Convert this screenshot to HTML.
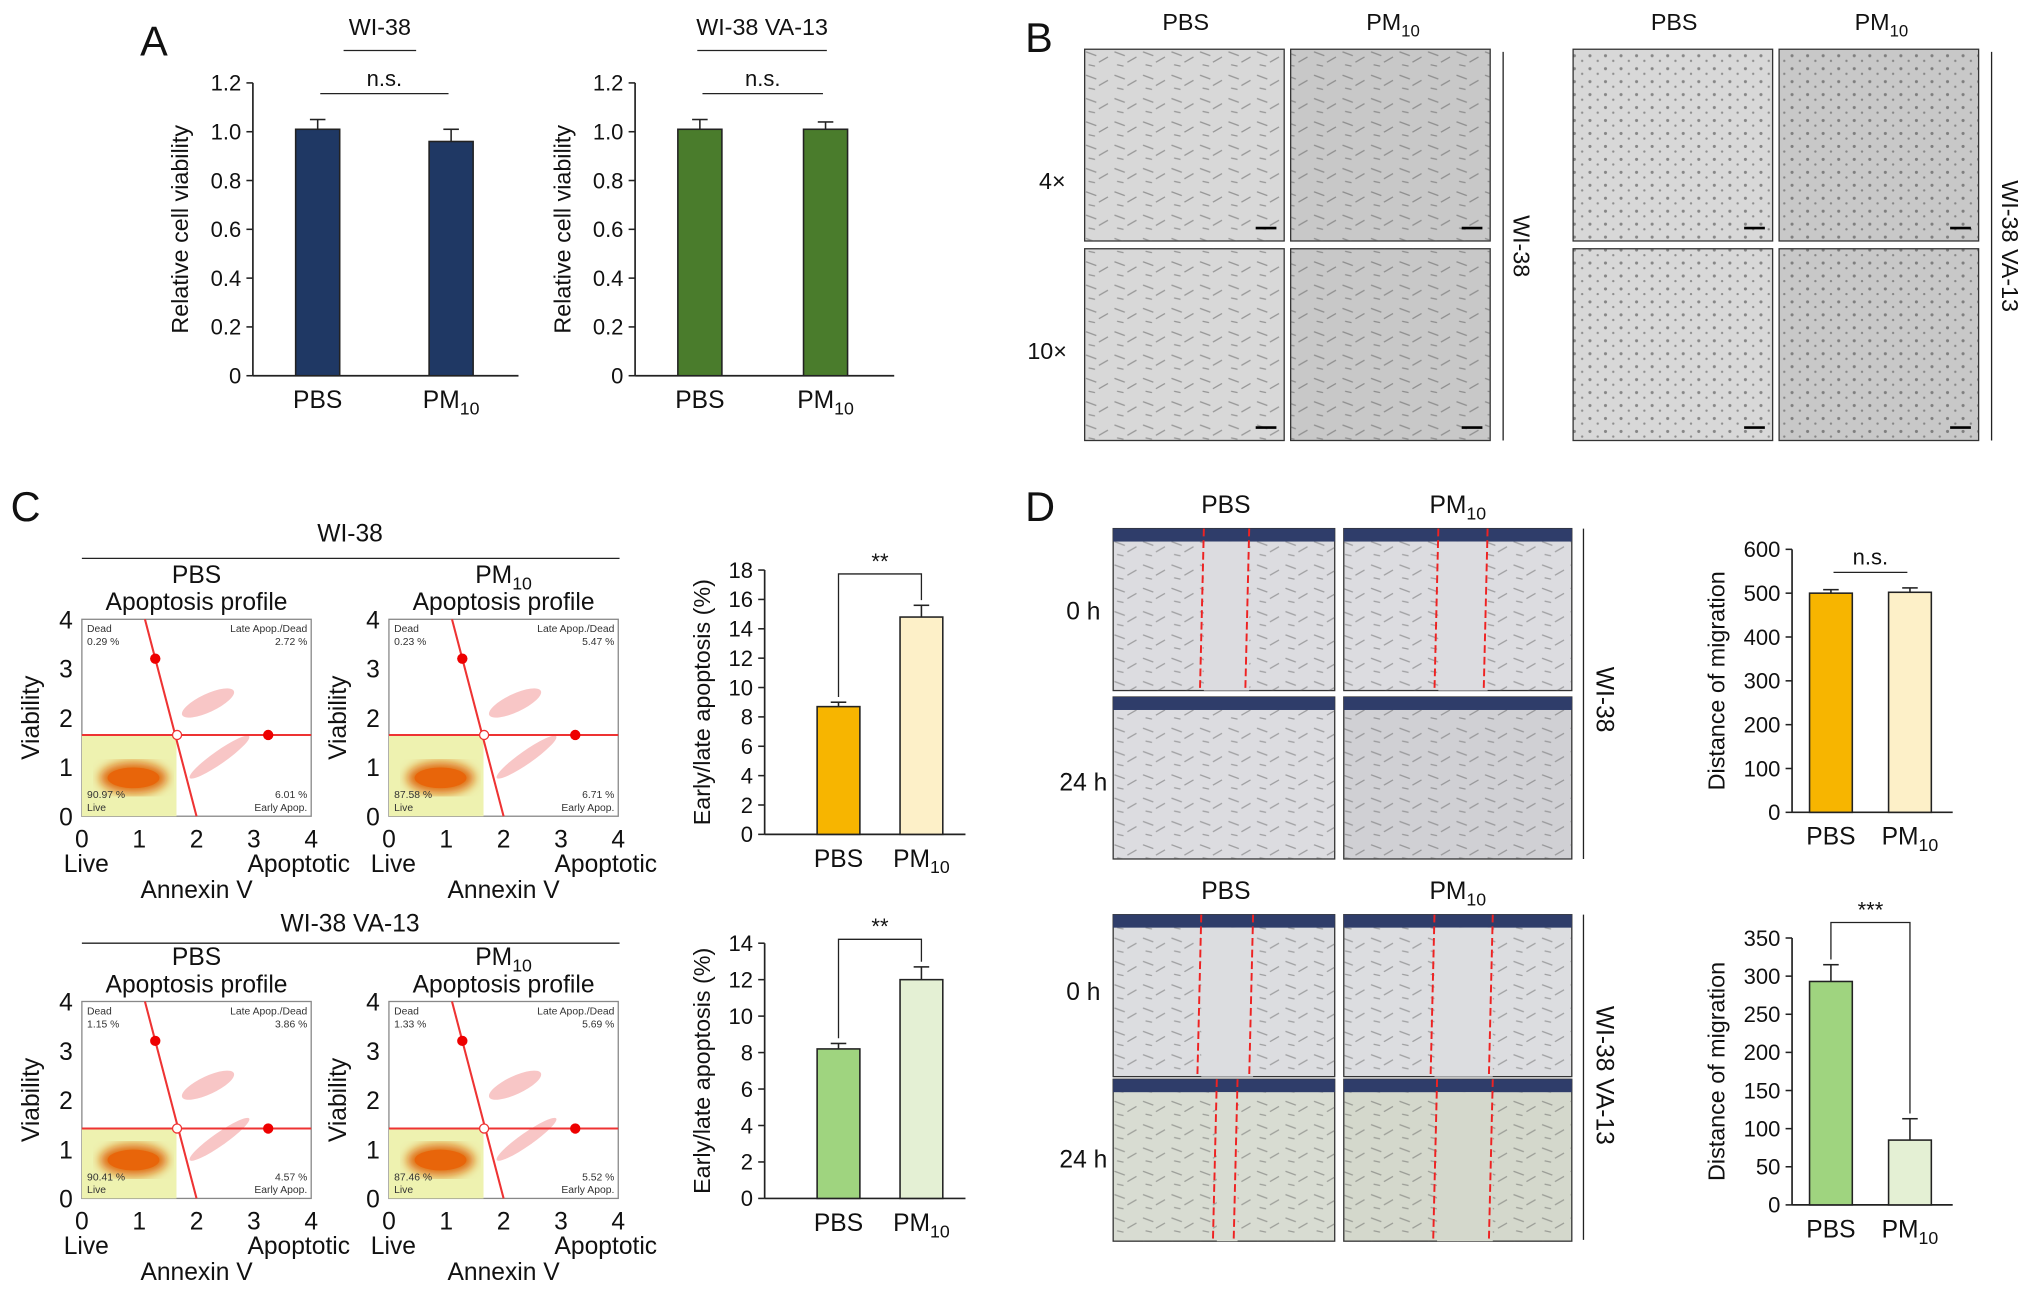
<!DOCTYPE html>
<html><head><meta charset="utf-8"><style>
html,body{margin:0;padding:0;background:#fff}
svg{display:block;font-family:"Liberation Sans",sans-serif}
</style></head><body>
<svg id="fig" width="2032" height="1293" viewBox="0 0 1568 998" xmlns="http://www.w3.org/2000/svg">
<defs>
<filter id="blur"><feGaussianBlur stdDeviation="4"/></filter>
<pattern id="cells" width="22" height="18" patternUnits="userSpaceOnUse"><path d="M2 4l8 3M12 12l7-4M4 14l5 1" stroke="#555" stroke-width="1" fill="none"/></pattern>
<pattern id="dots" width="12" height="10" patternUnits="userSpaceOnUse"><circle cx="3" cy="3" r="1.2" fill="#333"/><circle cx="9" cy="7" r="0.9" fill="#444"/></pattern>
</defs>
<g id="root"></g>
</svg>
<script>
const svgNS="http://www.w3.org/2000/svg";
const root=document.getElementById('root');
function el(tag,attrs,parent,text){const e=document.createElementNS(svgNS,tag);for(const k in attrs)e.setAttribute(k,attrs[k]);if(text!==undefined)e.textContent=text;(parent||root).appendChild(e);return e;}

// ---------- Data ----------
const aCategories=["PBS","PM10"];
const aWI38Values=[1.01,0.96];
const aWI38Err=[0.04,0.05];
const aVA13Values=[1.01,1.01];
const aVA13Err=[0.04,0.03];
const aTicks=[0,0.2,0.4,0.6,0.8,1.0,1.2];
const cWI38Values=[8.7,14.8];
const cWI38Err=[0.3,0.8];
const cWI38Ticks=[0,2,4,6,8,10,12,14,16,18];
const cVA13Values=[8.2,12.0];
const cVA13Err=[0.3,0.7];
const cVA13Ticks=[0,2,4,6,8,10,12,14];
const dWI38Values=[500,502];
const dWI38Err=[8,10];
const dWI38Ticks=[0,100,200,300,400,500,600];
const dVA13Values=[293,85];
const dVA13Err=[22,28];
const dVA13Ticks=[0,50,100,150,200,250,300,350];

function catLabel(g,x,y,cat,size){
  const t=el('text',{x:x,y:y,'text-anchor':'middle','font-size':size,fill:'#111'},g);
  if(cat==="PM10"){t.textContent="PM";el('tspan',{'font-size':size*0.72,dy:5},t,"10");}
  else t.textContent=cat;
  return t;
}

function barChart(o){
  const g=el('g',{});
  
  
  const max=o.ticks[o.ticks.length-1];
  const ys=v=>o.y0-(v/max)*(o.y0-o.y1);
  el('line',{x1:o.x0,y1:o.y1,x2:o.x0,y2:o.y0,stroke:'#222','stroke-width':1.3},g);
  el('line',{x1:o.x0,y1:o.y0,x2:o.xEnd,y2:o.y0,stroke:'#222','stroke-width':1.3},g);
  o.ticks.forEach(t=>{
    const y=ys(t);
    el('line',{x1:o.x0-5,y1:y,x2:o.x0,y2:y,stroke:'#222','stroke-width':1.2},g);
    const lt=el('text',{x:o.x0-9,y:y+6,'text-anchor':'end','font-size':17,fill:'#111'},g,o.fmt?o.fmt(t):String(t));
    
    
  });
  const yl=el('text',{x:0,y:0,transform:`translate(${o.x0-o.ylOff},${(o.y0+o.y1)/2}) rotate(-90)`,'text-anchor':'middle','font-size':18,fill:'#111'},g,o.ylabel);
  
  
  o.values.forEach((v,i)=>{
    const cx=o.xs[i];
    const b=el('rect',{x:cx-o.bw/2,y:ys(v),width:o.bw,height:o.y0-ys(v),fill:o.colors[i],stroke:o.stroke||'#222','stroke-width':1.2},g);
    
    
    const ey=ys(v+o.err[i]);
    el('line',{x1:cx,y1:ys(v),x2:cx,y2:ey,stroke:'#222','stroke-width':1.2},g);
    el('line',{x1:cx-6,y1:ey,x2:cx+6,y2:ey,stroke:'#222','stroke-width':1.2},g);
    const cl=catLabel(g,cx,o.y0+25,o.cats[i],19);
    
    
  });
  if(o.sig){
    const top=Math.max(...o.values.map((v,i)=>v+o.err[i]));
    if(o.sig==="n.s."){
      const y=ys(top)-o.sigGap;
      el('line',{x1:o.xs[0]+2,y1:y,x2:o.xs[1]-2,y2:y,stroke:'#222','stroke-width':1},g);
      el('text',{x:(o.xs[0]+o.xs[1])/2,y:y-6,'text-anchor':'middle','font-size':17,fill:'#111'},g,"n.s.");
    } else {
      const y=o.sigY;
      el('polyline',{points:`${o.xs[0]},${ys(o.values[0]+o.err[0])-4} ${o.xs[0]},${y} ${o.xs[1]},${y} ${o.xs[1]},${ys(o.values[1]+o.err[1])-4}`,fill:'none',stroke:'#222','stroke-width':1},g);
      el('text',{x:(o.xs[0]+o.xs[1])/2,y:y-4,'text-anchor':'middle','font-size':17,fill:'#111'},g,o.sig);
    }
  }
  return g;
}

// ---------- Panel letters ----------
[["A",108,43],["B",791,40],["C",8,402],["D",791,402]].forEach(([t,x,y])=>{
  const e=el('text',{x:x,y:y,'font-size':32,fill:'#111'},root,t);
  
  
});

// ---------- Panel A ----------
function titleU(x,y,t,w){
  const e=el('text',{x:x,y:y,'text-anchor':'middle','font-size':18,fill:'#111'},root,t);
  
  
  el('line',{x1:x-w/2,y1:y+12,x2:x+w/2,y2:y+12,stroke:'#222','stroke-width':1});
}
titleU(293,27,"WI-38",56);
titleU(588,27,"WI-38 VA-13",100);
barChart({name:'chart-a-wi38',x0:195,xEnd:400,y0:290,y1:64,ticks:aTicks,fmt:t=>t===0?"0":t.toFixed(1),values:aWI38Values,err:aWI38Err,cats:aCategories,xs:[245,348],bw:34,colors:['#1f3864','#1f3864'],ylabel:'Relative cell viability',ylOff:50,sig:'n.s.',sigGap:20});
barChart({name:'chart-a-va13',x0:490,xEnd:690,y0:290,y1:64,ticks:aTicks,fmt:t=>t===0?"0":t.toFixed(1),values:aVA13Values,err:aVA13Err,cats:aCategories,xs:[540,637],bw:34,colors:['#4a7c2c','#4a7c2c'],ylabel:'Relative cell viability',ylOff:50,sig:'n.s.',sigGap:20});

// ---------- Panel B (micrographs) ----------
function micro(x,y,w,h,name,pat,fill){
  const g=el('g',{});
  
  
  el('rect',{x:x,y:y,width:w,height:h,fill:fill||'#d4d4d4',stroke:'#333','stroke-width':1},g);
  if(pat) el('rect',{x:x,y:y,width:w,height:h,fill:pat,opacity:0.5},g);
  el('line',{x1:x+w-22,y1:y+h-10,x2:x+w-6,y2:y+h-10,stroke:'#000','stroke-width':2},g);
}
const bCols=[837,996,1214,1373], bRows=[38,192];
bCols.forEach((x,ci)=>bRows.forEach((y,ri)=>micro(x,y,154,148,'micrograph-b-'+ci+'-'+ri,ci%2?(ci<2?'url(#cells)':'url(#dots)'):(ci<2?'url(#cells)':'url(#dots)'),ci%2?'#c8c8c8':'#d8d8d8')));
[[915,"PBS"],[1075,"PM10"],[1292,"PBS"],[1452,"PM10"]].forEach(([x,t])=>catLabel(root,x,23,t,18));
el('text',{x:812,y:146,'text-anchor':'middle','font-size':18,fill:'#111'},root,"4×");
el('text',{x:808,y:277,'text-anchor':'middle','font-size':18,fill:'#111'},root,"10×");
el('line',{x1:1160,y1:40,x2:1160,y2:340,stroke:'#222','stroke-width':1});
el('text',{x:0,y:0,transform:'translate(1168,190) rotate(90)','text-anchor':'middle','font-size':18,fill:'#111'},root,"WI-38");
el('line',{x1:1537,y1:40,x2:1537,y2:340,stroke:'#222','stroke-width':1});
el('text',{x:0,y:0,transform:'translate(1545,190) rotate(90)','text-anchor':'middle','font-size':18,fill:'#111'},root,"WI-38 VA-13");

// ---------- Panel C flow plots ----------
const flowLabels=[["0.29 %","2.72 %","90.97 %","6.01 %"],["0.23 %","5.47 %","87.58 %","6.71 %"],["1.15 %","3.86 %","90.41 %","4.57 %"],["1.33 %","5.69 %","87.46 %","5.52 %"]];
function flow(x0,y0,idx,cond,hy){
  const g=el('g',{});
  
  
  const w=177,h=152, sx=v=>x0+v/4*w, sy=v=>y0-v/4*h;
  el('rect',{x:x0,y:y0-h,width:w,height:h,fill:'#fff',stroke:'#888','stroke-width':1},g);
  el('rect',{x:x0,y:sy(hy),width:sx(1.65)-x0,height:sy(0)-sy(hy),fill:'#eef2b0'},g);
  el('ellipse',{cx:sx(0.9),cy:sy(0.78),rx:26,ry:12,fill:'#e06a10',filter:'url(#blur)'},g);
  el('ellipse',{cx:sx(0.9),cy:sy(0.78),rx:20,ry:8,fill:'#e8650a'},g);
  el('ellipse',{cx:sx(2.2),cy:sy(2.3),rx:22,ry:7,fill:'#f4a0a0',opacity:0.6,transform:`rotate(-25 ${sx(2.2)} ${sy(2.3)})`},g);
  el('ellipse',{cx:sx(2.4),cy:sy(1.2),rx:28,ry:5,fill:'#f4a0a0',opacity:0.6,transform:`rotate(-35 ${sx(2.4)} ${sy(1.2)})`},g);
  el('line',{x1:x0,y1:sy(hy),x2:x0+w,y2:sy(hy),stroke:'#e33',"stroke-width":1.6},g);
  el('line',{x1:sx(1.1),y1:y0-h,x2:sx(2.0),y2:y0,stroke:'#e33',"stroke-width":1.6},g);
  el('circle',{cx:sx(1.28),cy:sy(3.2),r:4,fill:'#e00'},g);
  el('circle',{cx:sx(3.25),cy:sy(hy),r:4,fill:'#e00'},g);
  el('circle',{cx:sx(1.66),cy:sy(hy),r:3.5,fill:'#fff',stroke:'#e33'},g);
  const L=flowLabels[idx],fs=8;
  el('text',{x:x0+4,y:y0-h+10,'font-size':fs,fill:'#333'},g,"Dead");
  el('text',{x:x0+4,y:y0-h+20,'font-size':fs,fill:'#333'},g,L[0]);
  el('text',{x:x0+w-3,y:y0-h+10,'font-size':fs,fill:'#333','text-anchor':'end'},g,"Late Apop./Dead");
  el('text',{x:x0+w-3,y:y0-h+20,'font-size':fs,fill:'#333','text-anchor':'end'},g,L[1]);
  el('text',{x:x0+4,y:y0-14,'font-size':fs,fill:'#333'},g,L[2]);
  el('text',{x:x0+4,y:y0-4,'font-size':fs,fill:'#333'},g,"Live");
  el('text',{x:x0+w-3,y:y0-14,'font-size':fs,fill:'#333','text-anchor':'end'},g,L[3]);
  el('text',{x:x0+w-3,y:y0-4,'font-size':fs,fill:'#333','text-anchor':'end'},g,"Early Apop.");
  [0,1,2,3,4].forEach(v=>{
    el('text',{x:x0-7,y:sy(v)+7,'text-anchor':'end','font-size':19,fill:'#111'},g,String(v));
    el('text',{x:sx(v),y:y0+24,'text-anchor':'middle','font-size':19,fill:'#111'},g,String(v));
  });
  el('text',{x:x0-14,y:y0+43,'font-size':19,fill:'#111'},g,"Live");
  el('text',{x:x0+w+30,y:y0+43,'text-anchor':'end','font-size':19,fill:'#111'},g,"Apoptotic");
  el('text',{x:x0+w/2,y:y0+63,'text-anchor':'middle','font-size':19,fill:'#111'},g,"Annexin V");
  el('text',{x:0,y:0,transform:`translate(${x0-33},${y0-h/2}) rotate(-90)`,'text-anchor':'middle','font-size':19,fill:'#111'},g,"Viability");
  catLabel(g,x0+w/2,y0-h-28,cond,19);
  el('text',{x:x0+w/2,y:y0-h-7,'text-anchor':'middle','font-size':19,fill:'#111'},g,"Apoptosis profile");
}
el('text',{x:270,y:418,'text-anchor':'middle','font-size':19,fill:'#111'},root,"WI-38");
el('line',{x1:63,y1:431,x2:478,y2:431,stroke:'#222','stroke-width':1});
el('text',{x:270,y:719,'text-anchor':'middle','font-size':19,fill:'#111'},root,"WI-38 VA-13");
el('line',{x1:63,y1:728,x2:478,y2:728,stroke:'#222','stroke-width':1});
flow(63,630,0,"PBS",1.65);
flow(300,630,1,"PM10",1.65);
flow(63,925,2,"PBS",1.42);
flow(300,925,3,"PM10",1.42);

barChart({name:'chart-c-wi38',x0:590,xEnd:745,y0:644,y1:440,ticks:cWI38Ticks,values:cWI38Values,err:cWI38Err,cats:aCategories,xs:[647,711],bw:33,colors:['#f7b500','#fdf0c8'],ylabel:'Early/late apoptosis (%)',ylOff:42,sig:'**',sigY:443});
barChart({name:'chart-c-va13',x0:590,xEnd:745,y0:925,y1:728,ticks:cVA13Ticks,values:cVA13Values,err:cVA13Err,cats:aCategories,xs:[647,711],bw:33,colors:['#9fd47f','#e4f0d4'],ylabel:'Early/late apoptosis (%)',ylOff:42,sig:'**',sigY:725});

// ---------- Panel D ----------
function scratch(x,y,w,h,name,g1,g2,bg){
  const g=el('g',{});
  
  
  el('rect',{x:x,y:y,width:w,height:h,fill:bg,stroke:'#333','stroke-width':1},g);
  el('rect',{x:x,y:y,width:w,height:h,fill:'url(#cells)',opacity:0.45},g);
  el('rect',{x:x,y:y,width:w,height:10,fill:'#2f3d6a'},g);
  if(g1!==null){
    el('rect',{x:x+g1,y:y+10,width:g2-g1,height:h-10,fill:bg},g);
    el('line',{x1:x+g1,y1:y,x2:x+g1-3,y2:y+h,stroke:'#e22','stroke-width':1.5,'stroke-dasharray':'6 3'},g);
    el('line',{x1:x+g2,y1:y,x2:x+g2-3,y2:y+h,stroke:'#e22','stroke-width':1.5,'stroke-dasharray':'6 3'},g);
  }
}
scratch(859,408,171,125,'scratch-wi38-pbs-0h',70,105,'#dcdce0');
scratch(1037,408,176,125,'scratch-wi38-pm-0h',73,111,'#dcdce0');
scratch(859,538,171,125,'scratch-wi38-pbs-24h',null,null,'#dcdce0');
scratch(1037,538,176,125,'scratch-wi38-pm-24h',null,null,'#d0d0d4');
scratch(859,706,171,125,'scratch-va13-pbs-0h',68,108,'#dcdde0');
scratch(1037,706,176,125,'scratch-va13-pm-0h',70,115,'#dcdde0');
scratch(859,833,171,125,'scratch-va13-pbs-24h',80,96,'#d8dcd2');
scratch(1037,833,176,125,'scratch-va13-pm-24h',72,115,'#d4d8cc');
[[946,"PBS",396],[1125,"PM10",396],[946,"PBS",694],[1125,"PM10",694]].forEach(([x,t,y])=>catLabel(root,x,y,t,19));
[["0 h",478],["24 h",610],["0 h",772],["24 h",901]].forEach(([t,y])=>el('text',{x:836,y:y,'text-anchor':'middle','font-size':19,fill:'#111'},root,t));
el('line',{x1:1222,y1:408,x2:1222,y2:663,stroke:'#222','stroke-width':1});
el('text',{x:0,y:0,transform:'translate(1232,540) rotate(90)','text-anchor':'middle','font-size':19,fill:'#111'},root,"WI-38");
el('line',{x1:1222,y1:706,x2:1222,y2:957,stroke:'#222','stroke-width':1});
el('text',{x:0,y:0,transform:'translate(1232,830) rotate(90)','text-anchor':'middle','font-size':19,fill:'#111'},root,"WI-38 VA-13");

barChart({name:'chart-d-wi38',x0:1383,xEnd:1507,y0:627,y1:424,ticks:dWI38Ticks,values:dWI38Values,err:dWI38Err,cats:aCategories,xs:[1413,1474],bw:33,colors:['#f7b500','#fdf0c8'],ylabel:'Distance of migration',ylOff:52,sig:'n.s.',sigGap:12});
barChart({name:'chart-d-va13',x0:1383,xEnd:1507,y0:930,y1:724,ticks:dVA13Ticks,values:dVA13Values,err:dVA13Err,cats:aCategories,xs:[1413,1474],bw:33,colors:['#9fd47f','#e4f0d4'],ylabel:'Distance of migration',ylOff:52,sig:'***',sigY:712});
</script>
</body></html>
